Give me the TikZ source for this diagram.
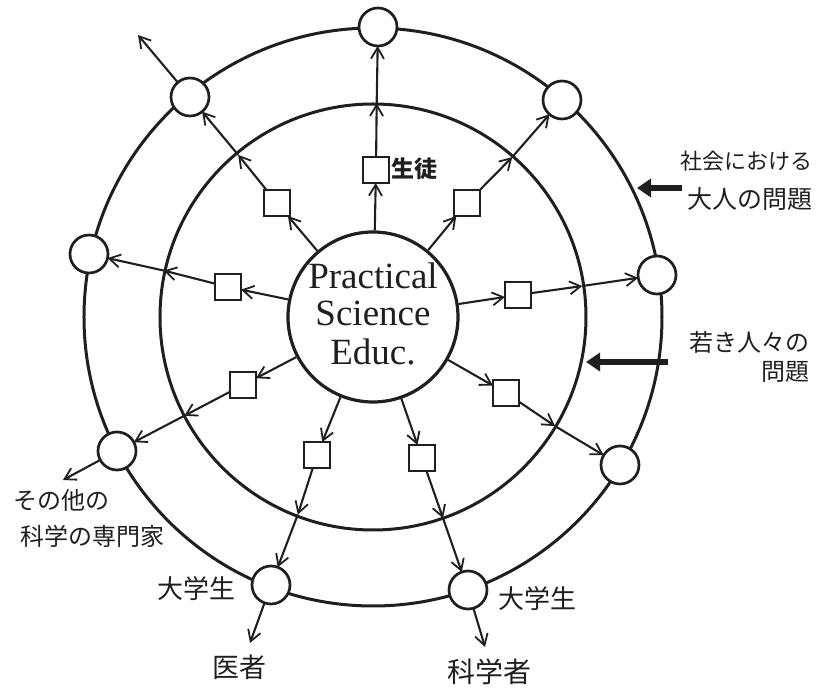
\documentclass[tikz,border=0pt]{standalone}
\usepackage{fontspec}
\newfontfamily\jp{Noto Sans CJK JP}
\newfontfamily\serifc{Liberation Serif}
\usetikzlibrary{arrows.meta,calc}
\colorlet{ink}{black!88}
\begin{document}
\begin{tikzpicture}[x=1pt,y=1pt,
  arr/.style={draw=ink,line width=2.1pt,-{Straight Barb[length=11pt,width=13pt,line width=1.8pt]}},
  sq/.style={draw=ink,line width=2.6pt,minimum size=26pt,inner sep=0pt,outer sep=0pt,fill=white},
  oc/.style={draw=ink,circle,line width=2.7pt,minimum size=38pt,inner sep=0pt,outer sep=0pt,fill=white},
  ring/.style={draw=ink,line width=3pt},
  bigarr/.style={draw=ink,line width=5.5pt,-{Triangle[length=14pt,width=18pt]}},
  lab/.style={text=ink,inner sep=0pt,font=\jp\fontsize{24}{26}\selectfont}]
\useasboundingbox (-373,-375) rectangle (444,317);
% rings
\draw[ring] (0,0) circle (289);
\draw[ring] (0,0) circle (213);
\node[circle,draw=ink,line width=3.2pt,minimum size=170pt,inner sep=0pt] (C) at (0,0) {};
\node[text=ink,inner sep=0pt] (T) at (0,-2) {\serifc\fontsize{37}{38}\selectfont\begin{tabular}{@{}c@{}}Practical\\[-1pt] Science\\[1pt] Educ.\end{tabular}};
% outer small circles
\node[oc] (o1) at (5,290) {};
\node[oc] (o2) at (189,217) {};
\node[oc] (o3) at (284,42) {};
\node[oc] (o4) at (247,-148) {};
\node[oc] (o5) at (95,-273) {};
\node[oc] (o6) at (-102,-268) {};
\node[oc] (o7) at (-256,-134) {};
\node[oc] (o8) at (-284,63) {};
\node[oc] (o9) at (-183,220) {};
% squares
\node[sq] (s1) at (3,147) {};
\node[sq] (s2) at (94,114) {};
\node[sq] (s3) at (145,22) {};
\node[sq] (s4) at (133,-76) {};
\node[sq] (s5) at (49,-141) {};
\node[sq] (s6) at (-56,-138) {};
\node[sq] (s7) at (-130,-68) {};
\node[sq] (s8) at (-145,30) {};
\node[sq] (s9) at (-96,114) {};
% crossing points on middle ring
\foreach \i in {1,...,9}{
  \coordinate (m\i) at ($(0,0)!0.737!(o\i)$);
  \draw[arr] (C) -- (s\i);
  \draw[arr] (s\i) -- (m\i);
  \draw[arr] (m\i) -- (o\i);
}
% free outward arrows
\coordinate (e9) at (-235,282);
\coordinate (e7) at (-310,-163);
\coordinate (e6) at (-123,-326);
\coordinate (e5) at (112,-330);
\draw[arr] (o9) -- (e9);
\draw[arr] (o7) -- (e7);
\draw[arr] (o6) -- (e6);
\draw[arr] (o5) -- (e5);
% thick arrows
\coordinate (a1s) at (309,129);
\coordinate (a1e) at (264,129);
\coordinate (a2s) at (295,-45);
\coordinate (a2e) at (213,-45);
\draw[bigarr] (a1s) -- (a1e);
\draw[bigarr] (a2s) -- (a2e);
% labels
\node[lab,font=\jp\bfseries\fontsize{23}{25}\selectfont,anchor=west] (l0) at (18,148) {生徒};
\node[lab,font=\jp\fontsize{22}{24}\selectfont,anchor=east] (l1) at (440,156) {社会における};
\node[lab,font=\jp\fontsize{25}{27}\selectfont,anchor=east] (l2) at (440,118) {大人の問題};
\node[lab,anchor=east] (l3) at (437,-25) {若き人々の};
\node[lab,anchor=east] (l4) at (437,-55) {問題};
\node[lab,anchor=west] (l5) at (-360,-183) {その他の};
\node[lab,anchor=west] (l6) at (-353,-219) {科学の専門家};
\node[lab,font=\jp\fontsize{26}{28}\selectfont] (l7) at (-176,-272) {大学生};
\node[lab,font=\jp\fontsize{26}{28}\selectfont] (l8) at (165,-282) {大学生};
\node[lab,font=\jp\fontsize{27}{29}\selectfont] (l9) at (-133,-350) {医者};
\node[lab,font=\jp\fontsize{28}{30}\selectfont] (l10) at (117,-355) {科学者};
\end{tikzpicture}
\end{document}
